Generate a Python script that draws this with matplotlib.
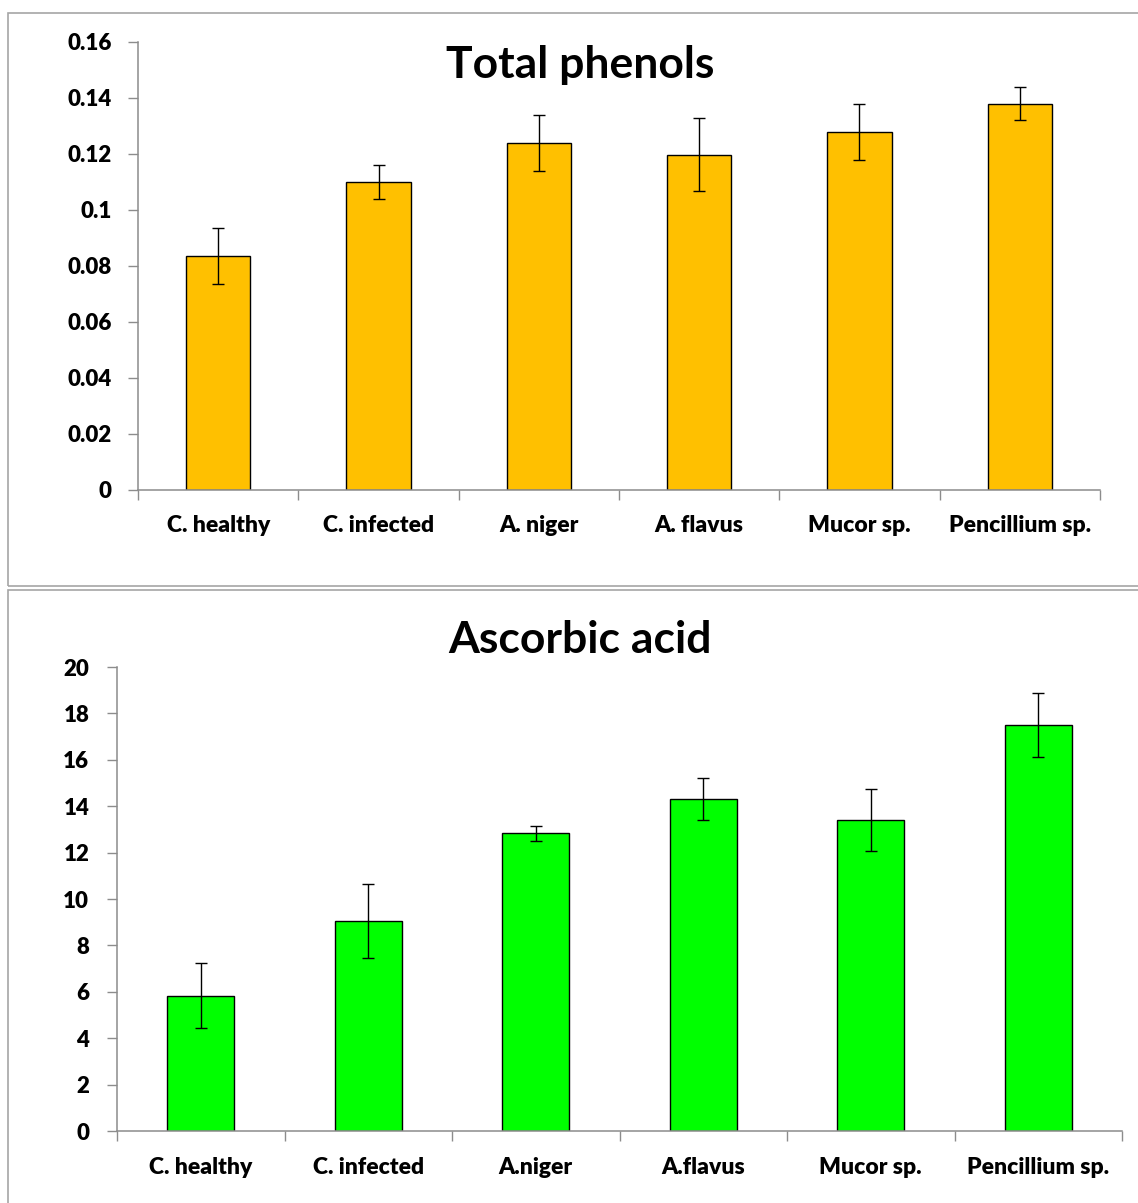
import numpy as np
import matplotlib.pyplot as plt
from matplotlib.patches import Rectangle

# data
phenol_labels = ['C. healthy', 'C. infected', 'A. niger', 'A. flavus', 'Mucor sp.', 'Pencillium sp.']
phenol_values = [0.0835, 0.110, 0.124, 0.1197, 0.128, 0.138]
phenol_errors = [0.010, 0.006, 0.010, 0.013, 0.010, 0.006]
phenol_ticks = [0, 0.02, 0.04, 0.06, 0.08, 0.1, 0.12, 0.14, 0.16]
phenol_ticklabels = ['0', '0.02', '0.04', '0.06', '0.08', '0.1', '0.12', '0.14', '0.16']

ascorbic_labels = ['C. healthy', 'C. infected', 'A.niger', 'A.flavus', 'Mucor sp.', 'Pencillium sp.']
ascorbic_values = [5.82, 9.05, 12.84, 14.3, 13.4, 17.5]
ascorbic_errors = [1.4, 1.6, 0.32, 0.9, 1.33, 1.4]
ascorbic_ticks = [0, 2, 4, 6, 8, 10, 12, 14, 16, 18, 20]

W, H = 1138, 1203
plt.rcParams['font.family'] = ['Lato', 'DejaVu Sans']
plt.rcParams['font.weight'] = 'bold'

AXIS_GRAY = '#8c8c8c'


def draw_panel(ax, labels, values, errors, ticks, ticklabels, color, ymax, label_pad, ytick_pad):
    x = np.arange(len(labels))
    ax.bar(x, values, width=0.4, color=color, edgecolor='black', linewidth=1.0, zorder=2)
    ax.errorbar(x, values, yerr=errors, fmt='none', ecolor='black', elinewidth=1.0,
                capsize=4.5, capthick=1.0, zorder=3)
    ax.set_xlim(-0.5, len(labels) - 0.5)
    ax.set_ylim(0, ymax)
    ax.set_yticks(ticks)
    ax.set_yticklabels(ticklabels, fontweight='heavy', fontsize=16)

    # boundaries between categories get the tick marks, centres get the labels
    ax.set_xticks(np.arange(len(labels) + 1) - 0.5)
    ax.set_xticklabels([])
    ax.set_xticks(x, minor=True)
    ax.set_xticklabels(labels, minor=True, fontweight='heavy', fontsize=16.5)
    ax.tick_params(axis='x', which='major', direction='out', length=7, width=1.0, color=AXIS_GRAY)
    ax.tick_params(axis='x', which='minor', length=0, pad=label_pad)
    ax.tick_params(axis='y', direction='out', length=7, width=1.0, color=AXIS_GRAY, pad=ytick_pad)

    for side in ['top', 'right']:
        ax.spines[side].set_visible(False)
    for side in ['left', 'bottom']:
        ax.spines[side].set_color(AXIS_GRAY)
        ax.spines[side].set_linewidth(1.1)


fig = plt.figure(figsize=(W / 100, H / 100), dpi=100)

# panel frames
fig.patches.append(Rectangle((8 / W, 1 - 586 / H), 1.0, (586 - 13) / H, transform=fig.transFigure,
                             fill=False, edgecolor='#a6a6a6', linewidth=1.2))
fig.patches.append(Rectangle((8 / W, -0.05), 1.0, 1 - 590 / H + 0.05, transform=fig.transFigure,
                             fill=False, edgecolor='#a6a6a6', linewidth=1.2))

ax1 = fig.add_axes([138 / W, 1 - 490 / H, 962 / W, 448 / H])
draw_panel(ax1, phenol_labels, phenol_values, phenol_errors, phenol_ticks, phenol_ticklabels,
           '#FFC000', 0.16, 18, 12)

ax2 = fig.add_axes([117 / W, 1 - 1131 / H, 1005 / W, 464 / H])
draw_panel(ax2, ascorbic_labels, ascorbic_values, ascorbic_errors, ascorbic_ticks,
           [str(t) for t in ascorbic_ticks], '#00FF00', 20, 19, 13)

fig.text(580 / W, 1 - 65 / H, 'Total phenols', ha='center', va='center', fontsize=32, fontweight='bold')
fig.text(580 / W, 1 - 640 / H, 'Ascorbic acid', ha='center', va='center', fontsize=32, fontweight='bold')

plt.savefig('out.png', dpi=100)
